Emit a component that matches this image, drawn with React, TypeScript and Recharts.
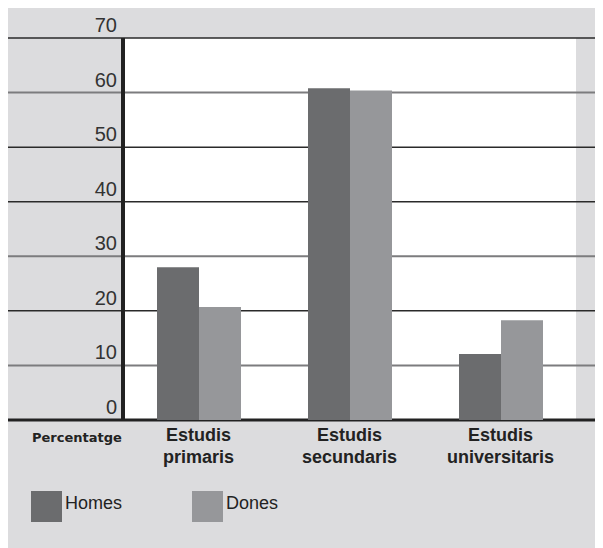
import React from 'react';
import { BarChart, Bar, XAxis, YAxis, CartesianGrid } from 'recharts';

const categories = ['Estudis primaris', 'Estudis secundaris', 'Estudis universitaris'];
const homes = [28.0, 60.8, 12.1];
const dones = [20.7, 60.4, 18.3];
const yTicks = [0, 10, 20, 30, 40, 50, 60, 70];

const W = 596;
const H = 541;
const HOMES_COLOR = '#6b6c6e';
const DONES_COLOR = '#96979a';
const BG = '#dcdcde';
const GRAY_LINES = [60, 30, 10];

const data = categories.map((name, i) => ({ name, homes: homes[i], dones: dones[i] }));

const YTick = (props: any) => {
  const { x, y, payload } = props;
  return (
    <text x={x - 6} y={y - 6} textAnchor="end" fontSize={20} fill="#333" fontFamily="'Liberation Sans', Arial, sans-serif">
      {payload.value}
    </text>
  );
};

const XTick = (props: any) => {
  const { x, y, payload } = props;
  const lines = String(payload.value).split(' ');
  return (
    <text x={x} textAnchor="middle" fontSize={18} fontWeight="bold" fill="#222" fontFamily="'Liberation Sans', Arial, sans-serif">
      {lines.map((l, i) => (
        <tspan key={i} x={x} y={y + 21 + i * 22}>{l}</tspan>
      ))}
    </text>
  );
};

const gridValues = yTicks.filter(v => v > 0);

const GridLine = (props: any) => {
  const { y1, index } = props;
  const v = gridValues[index];
  const gray = GRAY_LINES.includes(v);
  return (
    <line
      key={`g-${index}`}
      x1={0}
      x2={W}
      y1={y1}
      y2={y1}
      stroke={gray ? '#7c7c7e' : '#2a2a2a'}
      strokeWidth={gray ? 2 : 1.5}
    />
  );
};

const BaseLine = (props: any) => {
  const { y1, index } = props;
  return <line key={`b-${index}`} x1={0} x2={W} y1={y1} y2={y1} stroke="#222" strokeWidth={3} />;
};

export default function App() {
  return (
    <div style={{ position: 'relative', width: W, height: H, margin: '-1px 0 0 -1px', background: BG, fontFamily: "'Liberation Sans', Arial, sans-serif" }}>
      <BarChart width={W} height={H} data={data} margin={{ top: 31, right: 27, left: 0, bottom: 68 }} barGap={0}>
        <CartesianGrid fill="#fff" stroke="none" vertical={false} horizontalValues={gridValues} horizontal={GridLine} syncWithTicks />
        <XAxis dataKey="name" height={60} axisLine={false} tickLine={false} tickSize={0} tickMargin={0} tick={XTick} interval={0} />
        <YAxis
          width={116}
          domain={[0, 70]}
          ticks={yTicks}
          axisLine={{ stroke: '#222', strokeWidth: 4 }}
          tickLine={false}
          tickSize={0}
          tickMargin={0}
          tick={YTick}
          interval={0}
        />
        <Bar dataKey="homes" name="Homes" fill={HOMES_COLOR} barSize={42} isAnimationActive={false} />
        <Bar dataKey="dones" name="Dones" fill={DONES_COLOR} barSize={42} isAnimationActive={false} />
        <CartesianGrid fill="none" stroke="none" vertical={false} horizontalValues={[0]} horizontal={BaseLine} syncWithTicks />
      </BarChart>
      <div style={{ position: 'absolute', left: 25, top: 423, fontFamily: "'DejaVu Sans', sans-serif", fontWeight: 'bold', fontSize: 13, color: '#222', whiteSpace: 'nowrap' }}>
        Percentatge
      </div>
      <div style={{ position: 'absolute', left: 24, top: 484, width: 31, height: 31, background: HOMES_COLOR }} />
      <div style={{ position: 'absolute', left: 58, top: 486, fontSize: 18, color: '#222', lineHeight: 'normal' }}>Homes</div>
      <div style={{ position: 'absolute', left: 185, top: 484, width: 31, height: 31, background: DONES_COLOR }} />
      <div style={{ position: 'absolute', left: 219, top: 486, fontSize: 18, color: '#222', lineHeight: 'normal' }}>Dones</div>
    </div>
  );
}
